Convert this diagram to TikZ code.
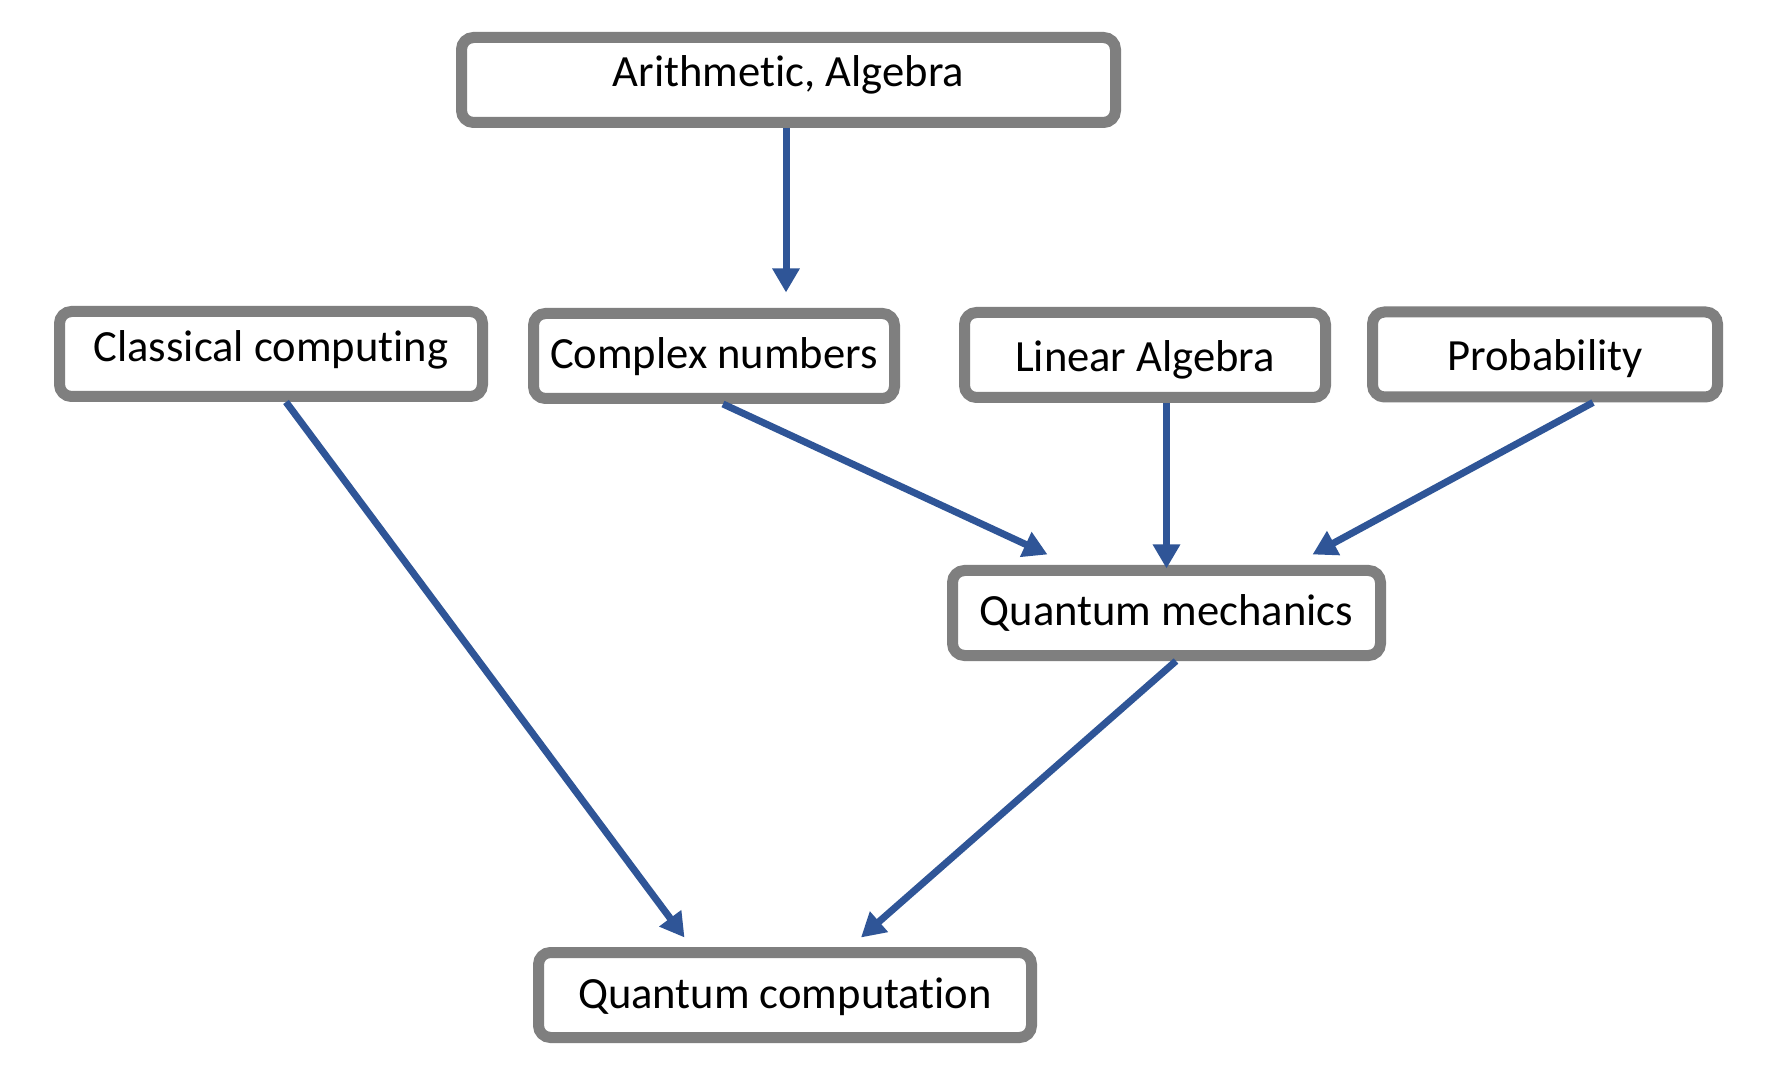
\documentclass[tikz,border=0pt]{standalone}
\usepackage{fontspec}
\setmainfont{Carlito}[RawFeature={-liga;-clig;-dlig;-calt}]
\usepackage{tikz}
\usetikzlibrary{
    arrows.meta,
    positioning
}
\definecolor{boxgray}{HTML}{7F7F7F}
\definecolor{feedblue}{HTML}{2F5597}
\tikzset{
    topic/.style={draw=boxgray, line width=5.5pt, rounded corners=6pt, fill=white,
        minimum height=42.5pt, inner sep=0pt, text height=18pt, text depth=5pt,
        font=\fontsize{22.3}{26}\selectfont},
    feed/.style={draw=feedblue, line width=3.5pt, -{Triangle[length=12pt,width=13pt]}}
}

\begin{document}
\begin{tikzpicture}[x=0.5pt,y=-0.5pt]
    \useasboundingbox[fill=white] (0,0) rectangle (1768,1080);
    % topics
    \node[topic, minimum width=327pt, text height=12pt] (arith) at (788.5,80) {Arithmetic, Algebra};
    \node[topic, minimum width=211.5pt, text height=13pt] (classical) at (271,354) {Classical computing};
    \node[topic, minimum width=180.5pt] (complex) at (714,356) {Complex numbers};
    \node[topic, minimum width=180.5pt, text height=22pt] (linear) at (1145,355) {Linear Algebra};
    \node[topic, minimum width=172.5pt, text height=21.5pt] (prob) at (1545,354.5) {Probability};
    \node[topic, minimum width=214pt, text height=17pt] (qm) at (1166.5,613) {Quantum mechanics};
    \node[topic, minimum width=246.5pt] (qc) at (785,995) {Quantum computation};
    % arrows
    \draw[feed] ([xshift=-1.25pt]arith.south) -- ([xshift=-1.25pt,yshift=7.75pt]arith.south |- complex.north);
    \draw[feed] ([xshift=4.5pt]complex.south) -- ([xshift=50.25pt,yshift=5.25pt]qm.north west);
    \draw[feed] (linear.south -| qm.north) -- ([yshift=-1.75pt]qm.north);
    \draw[feed] ([xshift=24pt]prob.south) -- ([xshift=-36.75pt,yshift=5.25pt]qm.north east);
    \draw[feed] ([xshift=7.5pt]classical.south) -- ([xshift=75.75pt,yshift=4.75pt]qc.north west);
    \draw[feed] ([xshift=4.75pt]qm.south) -- ([xshift=38pt,yshift=4.75pt]qc.north);
\end{tikzpicture}
\end{document}
